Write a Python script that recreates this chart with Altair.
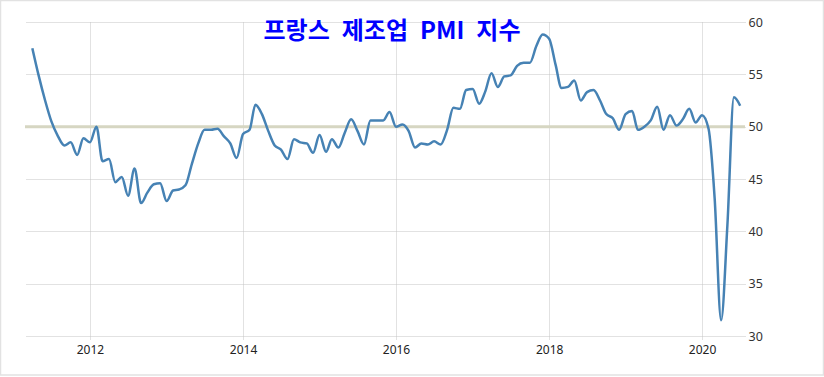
import altair as alt
import pandas as pd

# France manufacturing PMI, monthly (Apr 2011 - Jul 2020)
pmi_2011 = [57.5, 54.9, 52.5, 50.5, 49.1, 48.2, 48.5, 47.3, 48.9]  # Apr-Dec
pmi_2012 = [48.5, 50.0, 46.7, 46.9, 44.7, 45.2, 43.4, 46.0, 42.7, 43.7, 44.5, 44.6]
pmi_2013 = [42.9, 43.9, 44.0, 44.4, 46.4, 48.4, 49.7, 49.7, 49.8, 49.1, 48.4, 47.0]
pmi_2014 = [49.3, 49.7, 52.1, 51.2, 49.6, 48.2, 47.8, 46.9, 48.8, 48.5, 48.4, 47.5]
pmi_2015 = [49.2, 47.6, 48.8, 48.0, 49.4, 50.7, 49.6, 48.3, 50.6, 50.6, 50.6, 51.4]
pmi_2016 = [50.0, 50.2, 49.6, 48.0, 48.4, 48.3, 48.6, 48.3, 49.7, 51.8, 51.7, 53.5]
pmi_2017 = [53.6, 52.2, 53.3, 55.1, 53.8, 54.8, 54.9, 55.8, 56.1, 56.1, 57.7, 58.8]
pmi_2018 = [58.4, 55.9, 53.7, 53.8, 54.4, 52.5, 53.3, 53.5, 52.5, 51.2, 50.8, 49.7]
pmi_2019 = [51.2, 51.5, 49.7, 50.0, 50.6, 51.9, 49.7, 51.1, 50.1, 50.7, 51.7, 50.4]
pmi_2020 = [51.1, 49.8, 43.2, 31.5, 40.6, 52.8, 52.0]  # Jan-Jul

start_month = "2011-04-01"
title_text = "\u2002".join(["프랑스", "제조업", "PMI", "지수"])
x_tick_years = [2012, 2014, 2016, 2018, 2020]
y_ticks = [30, 35, 40, 45, 50, 55, 60]
ref_level = 50

values = (pmi_2011 + pmi_2012 + pmi_2013 + pmi_2014 + pmi_2015 +
          pmi_2016 + pmi_2017 + pmi_2018 + pmi_2019 + pmi_2020)
dates = pd.date_range(start_month, periods=len(values), freq="MS")
df = pd.DataFrame({"date": dates.strftime("%Y-%m-%d"), "pmi": values})

W, H = 720, 314

x_scale = alt.Scale(domain=[alt.DateTime(year=2011, month=2, date=25),
                            alt.DateTime(year=2020, month=7, date=24)])
y_scale = alt.Scale(domain=[30, 60], nice=False, zero=False)

grid_style = dict(gridColor="#c4c4c4", gridDash=[1, 1], gridWidth=1)

base = alt.Chart(df)

line = base.mark_line(color="#4682b4", strokeWidth=2.5, interpolate="monotone").encode(
    x=alt.X("date:T", scale=x_scale,
            axis=alt.Axis(values=[alt.DateTime(year=y, month=1, date=1) for y in x_tick_years],
                          format="%Y", title=None, domain=False, labelFlush=False,
                          tickColor="#c4c4c4", tickDash=[1, 1], tickSize=3,
                          labelPadding=5, labelFont="Noto Sans", labelFontSize=12,
                          labelColor="#222222", **grid_style)),
    y=alt.Y("pmi:Q", scale=y_scale,
            axis=alt.Axis(orient="right", values=y_ticks, title=None, domain=False,
                          ticks=False, labelPadding=3, labelFont="Noto Sans",
                          labelFontSize=12.5, labelColor="#333333", **grid_style)),
)

ref = alt.Chart(pd.DataFrame({"level": [ref_level]})).mark_rule(
    color="#d6d6c2", strokeWidth=3
).encode(y=alt.Y("level:Q", scale=y_scale))

title = alt.Chart(pd.DataFrame({"t": [title_text]})).mark_text(
    font="Noto Sans CJK KR", fontWeight="bold", fontSize=24, color="#0000ff",
    align="center", baseline="middle"
).encode(x=alt.value(367), y=alt.value(10), text="t:N")

frame = alt.Chart(pd.DataFrame({"f": [0]})).mark_rect(
    fill=None, stroke="#e2e2e2", strokeWidth=1.5
).encode(x=alt.value(-24.5), x2=alt.value(798.5), y=alt.value(-21.5), y2=alt.value(353))

chart = alt.layer(ref, line, title, frame).properties(
    width=W, height=H,
    autosize=alt.AutoSizeParams(type="none"),
    padding={"left": 25, "top": 22, "right": 79, "bottom": 41},
    background="white",
).configure_view(stroke=None)

chart.save("out.html", embed_options={"renderer": "svg", "actions": False})
